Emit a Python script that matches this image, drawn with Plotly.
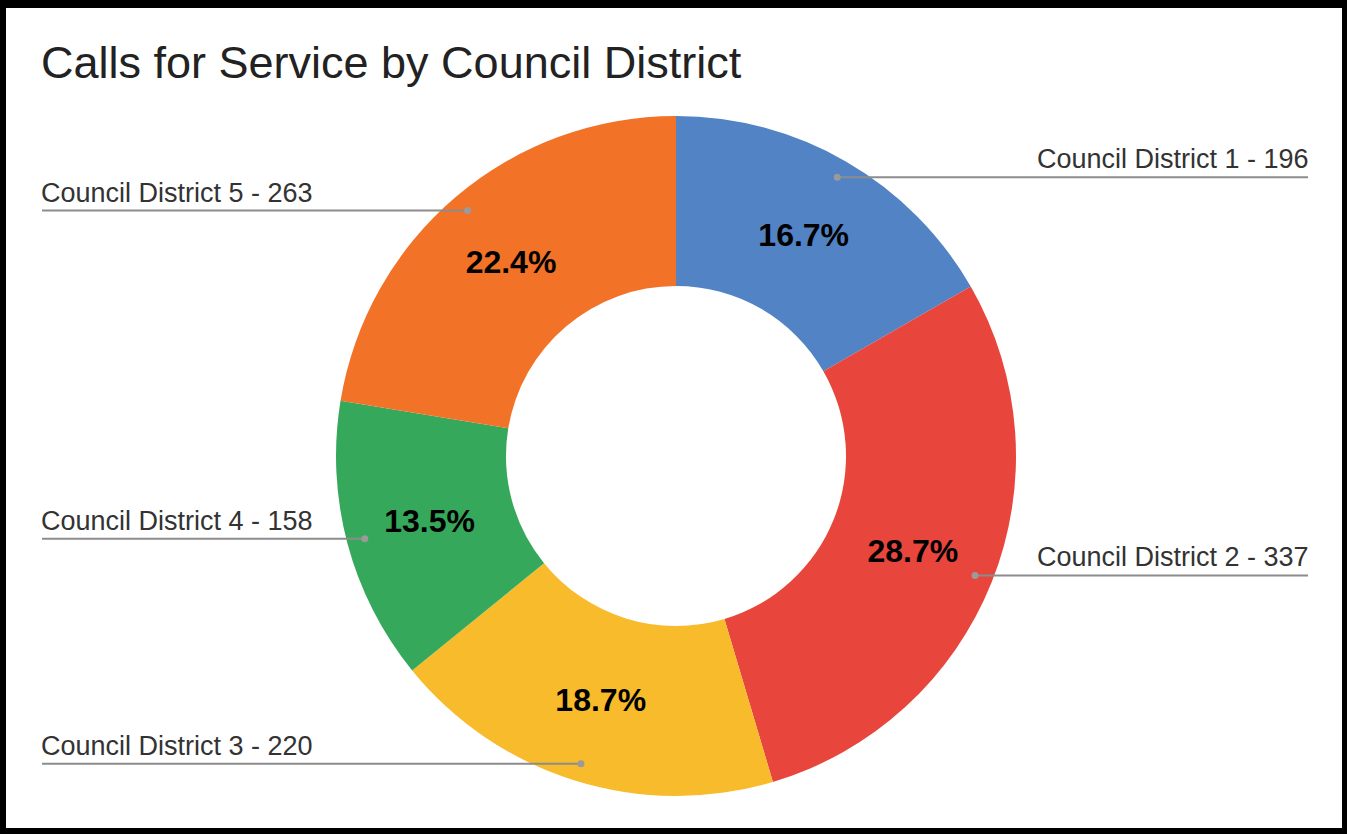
import math
import plotly.graph_objects as go

# Chart data
districts = ["Council District 1", "Council District 2", "Council District 3",
             "Council District 4", "Council District 5"]
calls = [196, 337, 220, 158, 263]
slice_colors = ["#5283C5", "#E8453C", "#F7BB2B", "#36A85B", "#F27228"]
title_text = "Calls for Service by Council District"

# Canvas and donut geometry (pixels)
W, H = 1347, 834
CX, CY, R = 676, 456, 340
HOLE = 0.5
FONT = "Liberation Sans, Arial, sans-serif"


def px(x):
    return x / W


def py(y):
    return 1 - y / H


fig = go.Figure(go.Pie(
    labels=districts,
    values=calls,
    hole=HOLE,
    sort=False,
    direction="clockwise",
    rotation=0,
    marker=dict(colors=slice_colors, line=dict(width=0)),
    texttemplate="%{percent:.1%}",
    textposition="inside",
    insidetextorientation="horizontal",
    textfont=dict(family=FONT, size=32, color="#000000", weight="bold"),
    hoverinfo="skip",
    domain=dict(x=[px(CX - R), px(CX + R)], y=[py(CY + R), py(CY - R)]),
))

shapes = []
annotations = []

# Leader lines, dots and outside labels placed at each slice's mid angle
total = sum(calls)
cum = 0
for name, v in zip(districts, calls):
    theta = 2 * math.pi * (cum + v / 2) / total
    cum += v
    dx = CX + 0.947 * R * math.sin(theta)
    dy = CY - 0.947 * R * math.cos(theta)
    right = math.sin(theta) > 0
    x_end = 1308 if right else 42
    shapes.append(dict(type="line", xref="paper", yref="paper",
                       x0=px(dx), x1=px(x_end), y0=py(dy), y1=py(dy),
                       line=dict(color="#8C8C8C", width=2)))
    shapes.append(dict(type="circle", xref="paper", yref="paper",
                       x0=px(dx - 3.5), x1=px(dx + 3.5),
                       y0=py(dy + 3.5), y1=py(dy - 3.5),
                       fillcolor="#9A9A9A", line=dict(width=0)))
    annotations.append(dict(
        text=f"{name} - {v}", xref="paper", yref="paper",
        x=px(x_end + 3 if right else x_end - 3), y=py(dy - 18),
        xanchor="right" if right else "left", yanchor="middle",
        showarrow=False, font=dict(family=FONT, size=27, color="#333333"),
    ))

# Title
annotations.append(dict(
    text=title_text, xref="paper", yref="paper",
    x=px(39), y=py(63), xanchor="left", yanchor="middle",
    showarrow=False, font=dict(family=FONT, size=45, color="#222222"),
))

# Black frame around the chart
for x0, y0, x1, y1 in [(0, 0, W, 8), (0, H - 6, W, H), (0, 0, 6, H), (W - 5, 0, W, H)]:
    shapes.append(dict(type="rect", xref="paper", yref="paper",
                       x0=px(x0), x1=px(x1), y0=py(y1), y1=py(y0),
                       fillcolor="#000000", line=dict(width=0), layer="above"))

fig.update_layout(
    width=W, height=H,
    margin=dict(l=0, r=0, t=0, b=0),
    paper_bgcolor="#FFFFFF",
    plot_bgcolor="#FFFFFF",
    showlegend=False,
    shapes=shapes,
    annotations=annotations,
)

fig.write_html("out.html", config={"displayModeBar": False})
